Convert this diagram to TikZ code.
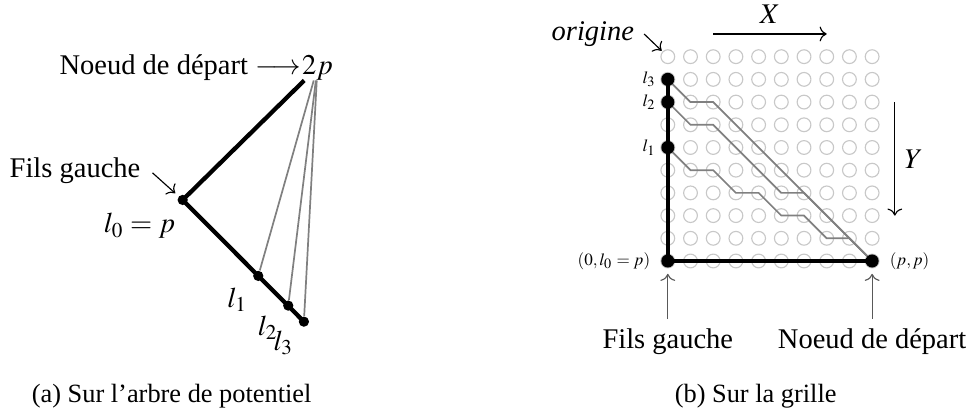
\documentclass[tikz,border=0pt]{standalone}
\usepackage{mathptmx}
\usepackage[no-math]{fontspec}
\setmainfont{Liberation Serif}
\usetikzlibrary{arrows.meta,positioning,calc}
\definecolor{ringgray}{RGB}{200,200,200}
\definecolor{walkgray}{RGB}{128,128,128}

\begin{document}
\begin{tikzpicture}[
  dot/.style={circle, fill=black, inner sep=0pt, minimum size=#1},
  dot/.default=3.6pt,
  walk/.style={walkgray, line width=0.6pt},
  spine/.style={line width=1.5pt},
  pin/.style={->, black!65, shorten >=2pt},
  tinylab/.style={font=\fontsize{6}{7}\selectfont, inner sep=1.5pt},
  coordlab/.style={font=\fontsize{6}{7}\selectfont, inner sep=3.5pt},
  capt/.style={font=\fontsize{9.25}{11}\selectfont, anchor=base}]
\useasboundingbox (0,0) rectangle (12,5.08);

% --- (a) the potential tree ---
\node[dot] (l0) at (2.253,2.614) {};
\node[dot] (l1) at (3.185,1.677) {};
\node[dot] (l2) at (3.555,1.311) {};
\node[dot] (l3) at (3.748,1.113) {};
\node[inner sep=0pt] (root) at (3.915,4.248) {$2p$};
\node[inner sep=0pt, left=0pt of root] (startlbl) {Noeud de départ $\longrightarrow$};

\draw[walk] (root) -- (l1);
\draw[walk] (root) -- (l2);
\draw[walk] (root) -- (l3);
\draw[spine] (root) -- (l0.center) -- (l3.center);

\node (lab0) at (1.72,2.293) {$l_0 = p$};
\node (lab1) at (2.928,1.381) {$l_1$};
\node (lab2) at (3.304,1.036) {$l_2$};
\node (lab3) at (3.496,0.851) {$l_3$};

\node (fgl) at (0.925,2.972) {Fils gauche};
\draw[->, shorten <=1pt, shorten >=1.5pt] (fgl.east) -- (l0);

\node[capt] (capa) at (2.117,0.12) {(a) Sur l'arbre de potentiel};

% --- (b) the grid ---
\begin{scope}[shift={(8.236,4.381)}, x=0.28cm, y=-0.28cm]
  \foreach \c in {0,...,9}{
    \foreach \r in {0,...,9}{
      \coordinate (g\c-\r) at (\c,\r);
      \draw[ringgray, line width=0.4pt] (g\c-\r) circle[radius=0.085cm];
    }
  }

  \draw[walk] (g0-1) -- (g1-2) -- (g2-2) -- (g9-9);
  \draw[walk] (g0-2) -- (g1-3) -- (g2-3) -- (g5-6) -- (g6-6) -- (g9-9);
  \draw[walk] (g0-4) -- (g1-5) -- (g2-5) -- (g3-6) -- (g4-6) -- (g5-7)
    -- (g6-7) -- (g7-8) -- (g8-8) -- (g9-9);
  \draw[spine] (g0-1) -- (g0-9) -- (g9-9);

  \node[dot=4.6pt, label={[tinylab]left:$l_3$}] (gl3) at (g0-1) {};
  \node[dot=4.6pt, label={[tinylab]left:$l_2$}] (gl2) at (g0-2) {};
  \node[dot=4.6pt, label={[tinylab]left:$l_1$}] (gl1) at (g0-4) {};
  \node[dot=4.6pt, label={[coordlab]left:$(0,l_0 = p)$}] (gfils) at (g0-9) {};
  \node[dot=4.6pt, label={[coordlab]right:$(p,p)$}] (gdep) at (g9-9) {};

  % axes
  \coordinate (xa) at (2,-1);
  \coordinate (xb) at (7,-1);
  \draw[->] (xa) -- node[above] (xlab) {$X$} (xb);
  \coordinate (ya) at (10,2);
  \coordinate (yb) at (10,7);
  \draw[->] (ya) -- node[right] (ylab) {$Y$} (yb);

  \node (orig) at (-3.3,-1) {\textit{origine}};
  \draw[->, shorten >=3pt] (orig.east) -- (g0-0);

  \node[anchor=base] (bfg) at (0,12.87) {Fils gauche};
  \node[anchor=base] (bnd) at (9,12.87) {Noeud de départ};
  \draw[pin] (bfg) -- (gfils);
  \draw[pin] (bnd) -- (gdep);
\end{scope}

\node[capt] (capb) at (9.32,0.12) {(b) Sur la grille};
\end{tikzpicture}
\end{document}
